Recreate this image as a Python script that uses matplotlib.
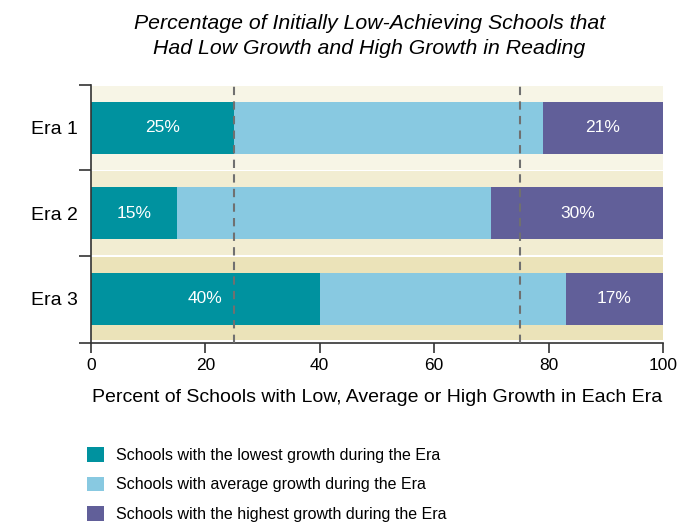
import numpy as np
import matplotlib.pyplot as plt

plt.rcParams["font.family"] = ["Liberation Sans Narrow", "Liberation Sans", "DejaVu Sans"]

eras = ["Era 1", "Era 2", "Era 3"]
low = [25, 15, 40]
average = [54, 55, 43]
high = [21, 30, 17]
series_names = ["Schools with the lowest growth during the Era",
                "Schools with average growth during the Era",
                "Schools with the highest growth during the Era"]
colors = ["#00929F", "#88C9E1", "#615F99"]
band_colors = ["#F7F5E6", "#F2EDD2", "#EBE3B9"]

fig = plt.figure(figsize=(6.78, 5.31), dpi=100)
ax = fig.add_axes([0.134, 0.354, 0.844, 0.486])

y = np.arange(len(eras))
for i in y:
    ax.axhspan(i - 0.49, i + 0.49, color=band_colors[i], lw=0, zorder=0)

left = np.zeros(len(eras))
bars = []
for vals, c, name in zip([low, average, high], colors, series_names):
    b = ax.barh(y, vals, left=left, height=0.61, color=c, label=name, zorder=2)
    bars.append(b)
    left = left + np.array(vals)

# labels on lowest and highest segments
for rect, v in zip(bars[0], low):
    ax.text(rect.get_x() + rect.get_width() / 2, rect.get_y() + rect.get_height() / 2,
            f"{v}%", color="white", ha="center", va="center", fontsize=12.5, zorder=3)
for rect, v in zip(bars[2], high):
    ax.text(rect.get_x() + rect.get_width() / 2, rect.get_y() + rect.get_height() / 2,
            f"{v}%", color="white", ha="center", va="center", fontsize=12.5, zorder=3)

for xv in [25, 75]:
    ax.axvline(xv, color="#707070", ls=(0, (4, 3)), lw=1.5, zorder=4)

ax.set_xlim(0, 100)
ax.set_ylim(2.52, -0.5)
ax.set_yticks(y)
ax.set_yticklabels(eras, fontsize=14)
ax.set_yticks([-0.5, 0.5, 1.5, 2.52], minor=True)
ax.tick_params(axis="y", which="major", length=0, pad=9)
ax.tick_params(axis="y", which="minor", length=9, width=1.2, color="#333333")
ax.set_xticks([0, 20, 40, 60, 80, 100])
ax.tick_params(axis="x", length=7, width=1.2, labelsize=12.5, color="#333333")
ax.spines["top"].set_visible(False)
ax.spines["right"].set_visible(False)
for s in ["left", "bottom"]:
    ax.spines[s].set_linewidth(1.2)
    ax.spines[s].set_color("#333333")

ax.set_xlabel("Percent of Schools with Low, Average or High Growth in Each Era",
              fontsize=14, labelpad=12)
fig.text(0.545, 0.932, "Percentage of Initially Low-Achieving Schools that\nHad Low Growth and High Growth in Reading",
         ha="center", va="center", fontsize=15.3, style="italic", linespacing=1.4)

ax.legend(loc="upper left", bbox_to_anchor=(0.128, 0.158), bbox_transform=fig.transFigure,
          frameon=False, fontsize=11.5, handlelength=1.05, handleheight=1.05,
          handletextpad=0.8, labelspacing=0.85, borderpad=0, borderaxespad=0)

fig.savefig("out.png", dpi=100)
